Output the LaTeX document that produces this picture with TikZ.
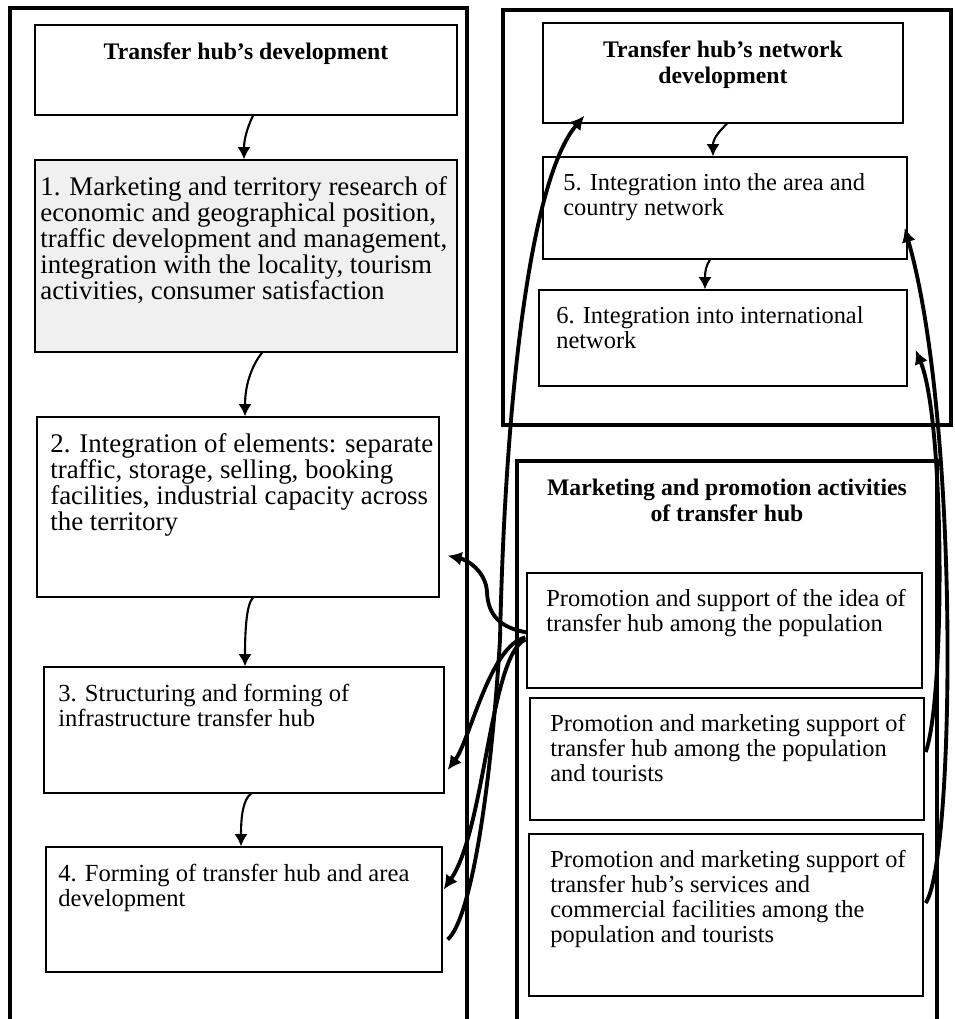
\documentclass[tikz,border=0pt]{standalone}
\usepackage{fontspec}
\setmainfont{Liberation Serif}
\usetikzlibrary{arrows.meta,fit,calc}

\tikzset{
  frame/.style={draw, line width=2.8pt},
  box/.style={draw, line width=0.75pt, inner sep=0pt, fit={#1}},
  shaded/.style={fill=black!6},
  ltxt/.style={anchor=north west, align=left, inner sep=0pt, font=\fontsize{15.3}{14.8}\selectfont},
  small/.style={font=\fontsize{14}{14.3}\selectfont},
  rtxt/.style={anchor=north west, align=left, inner sep=0pt, font=\fontsize{13.9}{14.3}\selectfont},
  head/.style={anchor=north, align=center, inner sep=0pt, font=\fontsize{13.5}{14.9}\selectfont\bfseries},
  flow/.style={line width=1.2pt, -{Latex[length=7pt,width=7.5pt]}},
  cross/.style={line width=2.2pt, -{Latex[length=8pt,width=8pt]}},
}

\begin{document}
\begin{tikzpicture}[x=0.02cm, y=-0.02cm]
\useasboundingbox (0,0) rectangle (955,1019);

% big frames
\draw[frame] (10,1019) -- (10,8) -- (467,8) -- (467,1019);
\draw[frame] (503,10) rectangle (951,425);
\draw[frame] (517,1019) -- (517,461) -- (937,461) -- (937,1019);

% left column
\node[box={(35,25) (457,115)}] (dev) {};
\node[head] (devT) at (246,42) {Transfer hub’s development};
\node[box={(35,160) (457,352)}, shaded] (st1) {};
\node[ltxt] (st1T) at (40,176) {1. Marketing and territory research of\\
  economic and geographical position,\\ traffic development and management,\\
  integration with the locality, tourism\\ activities, consumer satisfaction};
\node[box={(37,417) (439,597)}] (st2) {};
\node[ltxt] (st2T) at (50,433) {2. Integration of elements: separate\\
  traffic, storage, selling, booking\\ facilities, industrial capacity across\\ the territory};
\node[box={(44,667) (444,793)}] (st3) {};
\node[ltxt, small] (st3T) at (58,684) {3. Structuring and forming of\\ infrastructure transfer hub};
\node[box={(46,847) (442,972)}] (st4) {};
\node[ltxt, small] (st4T) at (58,864) {4. Forming of transfer hub and area\\ development};

% right column, network
\node[box={(543,23) (903,123)}] (net) {};
\node[head] (netT) at (723,40) {Transfer hub’s network\\ development};
\node[box={(543,157) (907,259)}] (st5) {};
\node[rtxt] (st5T) at (563,173) {5. Integration into the area and\\ country network};
\node[box={(539,290) (907,386)}] (st6) {};
\node[rtxt] (st6T) at (556,306) {6. Integration into international\\ network};

% right column, marketing
\node[head] (mktT) at (727,479) {Marketing and promotion activities\\ of transfer hub};
\node[box={(527,573) (922,688)}] (pr1) {};
\node[rtxt] (pr1T) at (546,589) {Promotion and support of the idea of\\ transfer hub among the population};
\node[box={(530,698) (924,820)}] (pr2) {};
\node[rtxt] (pr2T) at (550,714) {Promotion and marketing support of\\ transfer hub among the population\\ and tourists};
\node[box={(529,834) (923,996)}] (pr3) {};
\node[rtxt] (pr3T) at (550,850) {Promotion and marketing support of\\ transfer hub’s services and\\
  commercial facilities among the\\ population and tourists};

% steps
\draw[flow] ($(dev.south)+(7,0)$) .. controls +(-4,8) and +(0,-22) .. ($(st1.north)+(-2,0)$);
\draw[flow] ($(st1.south)+(16,0)$) .. controls +(-8,10) and +(0,-35) .. ($(st2.north)+(7,0)$);
\draw[flow] ($(st2.south)+(15,0)$) .. controls +(-6,6) and +(0,-40) .. ($(st3.north)+(1,0)$);
\draw[flow] ($(st3.south)+(7,0)$) .. controls +(-8,6) and +(0,-30) .. ($(st4.north)+(-3,0)$);
\draw[flow] ($(net.south)+(4,0)$) .. controls +(-8,8) and +(0,-18) .. ($(st5.north)+(-12,0)$);
\draw[flow] ($(st5.south)+(-15,0)$) .. controls +(-4,6) and +(0,-18) .. ($(st6.north)+(-18,0)$);

% promotion links
\draw[cross] ($(pr1.west)+(1,2)$) .. controls (500,628) and (488,615) .. (487,592)
  .. controls (486,572) and (468,560) .. ($(st2.south east)+(8,-42)$);
\draw[cross] ($(pr1.west)+(-1,7)$) .. controls (490,645) and (470,740) .. ($(st3.east)+(3,40)$);
\draw[cross] ($(pr1.west)+(-1,9)$) .. controls (490,655) and (485,830) .. ($(st4.east)+(1,-20)$);
\draw[cross] ($(st4.east)+(5,30)$) .. controls (470,920) and (490,800) .. (500,640)
  .. controls (505,400) and (530,180) .. ($(net.south west)+(42,-8)$);
\draw[cross] ($(pr2.east)+(1,-7)$) .. controls (945,700) and (945,420) .. ($(st6.east)+(8,12)$);
\draw[cross] ($(pr3.east)+(2,-12)$) .. controls (955,860) and (960,420) .. ($(st5.east)+(-3,20)$);
\end{tikzpicture}
\end{document}
